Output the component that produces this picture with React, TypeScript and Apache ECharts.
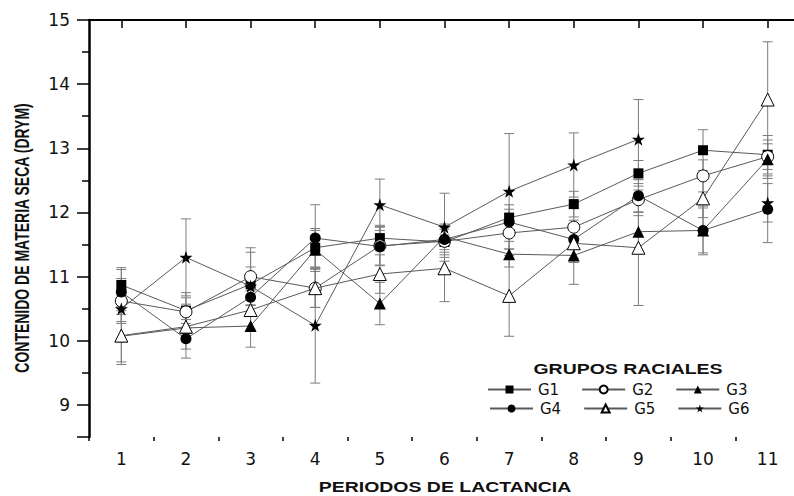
import React, { useEffect, useRef } from 'react';
import * as echarts from 'echarts';

const periods = ['1', '2', '3', '4', '5', '6', '7', '8', '9', '10', '11'];
const yTickLabels = ['15', '14', '13', '12', '11', '10', '9'];

const g1 = [10.87, 10.47, 10.88, 11.45, 11.6, 11.54, 11.92, 12.13, 12.61, 12.97, 12.9];
const g1Err = [0.27, 0.2, 0.5, 0.3, 0.2, 0.2, 0.2, 0.2, 0.2, 0.32, 0.3];
const g2 = [10.62, 10.45, 11.0, 10.82, 11.48, 11.55, 11.68, 11.77, 12.2, 12.57, 12.87];
const g2Err = [0.35, 0.3, 0.45, 0.3, 0.3, 0.25, 0.25, 0.3, 0.25, 0.25, 0.2];
const g3 = [10.07, 10.2, 10.23, 11.42, 10.58, 11.62, 11.35, 11.33, 11.7, 11.72, 12.83];
const g3Err = [0.4, 0.2, 0.33, 0.3, 0.33, 0.2, 0.2, 0.45, 0.3, 0.38, 0.3];
const g4 = [10.76, 10.03, 10.68, 11.6, 11.47, 11.58, 11.85, 11.58, 12.26, 11.72, 12.05];
const g4Err = [0.35, 0.3, 0.3, 0.52, 0.3, 0.2, 0.2, 0.3, 0.25, 0.35, 0.52];
const g5 = [10.08, 10.22, 10.48, 10.82, 11.04, 11.13, 10.7, 11.52, 11.45, 12.22, 13.76];
const g5Err = [0.45, 0.35, 0.3, 0.3, 0.3, 0.52, 0.63, 0.3, 0.9, 0.3, 0.9];
const g6 = [10.5, 11.3, 10.85, 10.24, 12.12, 11.77, 12.33, 12.74, 13.14, null, 12.15];
const g6Err = [0.2, 0.6, 0.3, 0.9, 0.4, 0.53, 0.9, 0.5, 0.62, null, 0.3];

const groupNames = ['G1', 'G2', 'G3', 'G4', 'G5', 'G6'];
const groupValues = [g1, g2, g3, g4, g5, g6];
const groupErrors = [g1Err, g2Err, g3Err, g4Err, g5Err, g6Err];

const STAR = 'path://M50,0L61.2,34.5L97.6,34.5L68.2,55.9L79.4,90.5L50,69.1L20.6,90.5L31.8,55.9L2.4,34.5L38.8,34.5Z';
const symbols = ['rect', 'circle', 'triangle', 'circle', 'triangle', STAR];
const symbolSizes = [10, 12, 12, 11, 13, 13];
const fills = ['#000', '#fff', '#000', '#000', '#fff', '#000'];

export default function App() {
  const ref = useRef<HTMLDivElement>(null);
  useEffect(() => {
    if (!ref.current) return;
    const chart = echarts.init(ref.current, null, { renderer: 'svg' });

    const lineSeries = groupNames.map((name, k) => ({
      type: 'line',
      name,
      data: groupValues[k],
      xAxisIndex: 0,
      yAxisIndex: 0,
      symbol: symbols[k],
      symbolSize: symbolSizes[k],
      showAllSymbol: true,
      connectNulls: false,
      lineStyle: { color: '#5a5a5a', width: 1 },
      itemStyle: { color: fills[k], borderColor: '#000', borderWidth: fills[k] === '#fff' ? 1 : 0, opacity: 1 },
      emphasis: { disabled: true },
      z: 3 + k,
      silent: true,
    }));

    const errSeries = groupNames.map((name, k) => ({
      type: 'custom',
      name: name + ' err',
      xAxisIndex: 0,
      yAxisIndex: 0,
      data: groupValues[k]
        .map((v, i) => [i, v, groupErrors[k][i]])
        .filter((d) => d[1] != null && d[2] != null),
      encode: { x: 0, y: 1 },
      z: 2,
      silent: true,
      renderItem: (params: any, api: any) => {
        const x = api.value(0);
        const v = api.value(1);
        const e = api.value(2);
        const hi = api.coord([x, v + e]);
        const lo = api.coord([x, v - e]);
        const hw = 5;
        const style = { stroke: '#7d7d7d', lineWidth: 1 };
        return {
          type: 'group',
          children: [
            { type: 'line', shape: { x1: hi[0], y1: hi[1], x2: lo[0], y2: lo[1] }, style },
            { type: 'line', shape: { x1: hi[0] - hw, y1: hi[1], x2: hi[0] + hw, y2: hi[1] }, style },
            { type: 'line', shape: { x1: lo[0] - hw, y1: lo[1], x2: lo[0] + hw, y2: lo[1] }, style },
          ],
        };
      },
    }));

    const legendCommon = {
      orient: 'horizontal',
      itemWidth: 43,
      itemHeight: 10,
      itemGap: 22,
      padding: 0,
      selectedMode: false,
      textStyle: { fontFamily: 'DejaVu Sans', fontSize: 15, color: '#111', padding: [0, 0, 0, 2] },
    };

    const boldText = { fontFamily: 'Liberation Sans', fontSize: 14, fontWeight: 'bold', fill: '#111' };

    chart.setOption({
      animation: false,
      backgroundColor: '#fff',
      grid: { left: 89, right: -6, top: 20, bottom: 59, containLabel: false, outerBoundsMode: 'none' },
      xAxis: [
        {
          type: 'category',
          data: periods,
          boundaryGap: true,
          position: 'bottom',
          axisLine: { show: true, lineStyle: { color: '#000', width: 2 } },
          axisTick: { show: true, alignWithLabel: true, length: 8, lineStyle: { color: '#000', width: 1.5 } },
          axisLabel: { show: true, margin: 13, fontFamily: 'DejaVu Sans', fontSize: 17, color: '#111' },
          splitLine: { show: false },
        },
        {
          type: 'category',
          data: periods,
          boundaryGap: true,
          position: 'bottom',
          axisLine: { show: false },
          axisTick: { show: true, alignWithLabel: false, length: 4, lineStyle: { color: '#000', width: 1.5 } },
          axisLabel: { show: false },
          splitLine: { show: false },
        },
      ],
      yAxis: [
        {
          type: 'value',
          min: 8.5,
          max: 15,
          position: 'left',
          axisLine: { show: true, lineStyle: { color: '#000', width: 2.5 } },
          axisTick: { show: false },
          axisLabel: { show: false },
          splitLine: { show: false },
        },
        {
          type: 'value',
          inverse: true,
          min: 0,
          max: 6.5,
          interval: 1,
          position: 'left',
          axisLine: { show: false },
          axisTick: { show: true, length: 12, lineStyle: { color: '#000', width: 1.5 } },
          minorTick: { show: true, splitNumber: 2, length: 7, lineStyle: { color: '#000', width: 1.5 } },
          axisLabel: {
            show: true,
            margin: 19,
            fontFamily: 'DejaVu Sans',
            fontSize: 17,
            color: '#111',
            formatter: (v: number) => yTickLabels[Math.round(v)] ?? '',
          },
          splitLine: { show: false },
          minorSplitLine: { show: false },
        },
      ],
      legend: [
        { ...legendCommon, data: ['G1', 'G2', 'G3'], left: 487, top: 382 },
        { ...legendCommon, data: ['G4', 'G5', 'G6'], left: 489, top: 401 },
      ],
      graphic: [
        {
          type: 'text',
          x: 628,
          y: 369,
          scaleX: 1.39,
          style: { ...boldText, text: 'GRUPOS RACIALES', align: 'center', verticalAlign: 'middle', textAlign: 'center', textVerticalAlign: 'middle' },
        },
        {
          type: 'text',
          x: 445,
          y: 487,
          scaleX: 1.39,
          style: { ...boldText, text: 'PERIODOS DE LACTANCIA', align: 'center', verticalAlign: 'middle', textAlign: 'center', textVerticalAlign: 'middle' },
        },
        {
          type: 'text',
          x: 22.5,
          y: 238,
          rotation: Math.PI / 2,
          scaleY: 1.39,
          style: { ...boldText, text: 'CONTENIDO DE MATERIA SECA (DRYM)', align: 'center', verticalAlign: 'middle', textAlign: 'center', textVerticalAlign: 'middle' },
        },
      ],
      series: [...errSeries, ...lineSeries],
    });

    return () => chart.dispose();
  }, []);

  return (
    <div
      ref={ref}
      style={{ position: 'fixed', left: 0, top: 0, width: 794, height: 496, background: '#fff' }}
    />
  );
}
